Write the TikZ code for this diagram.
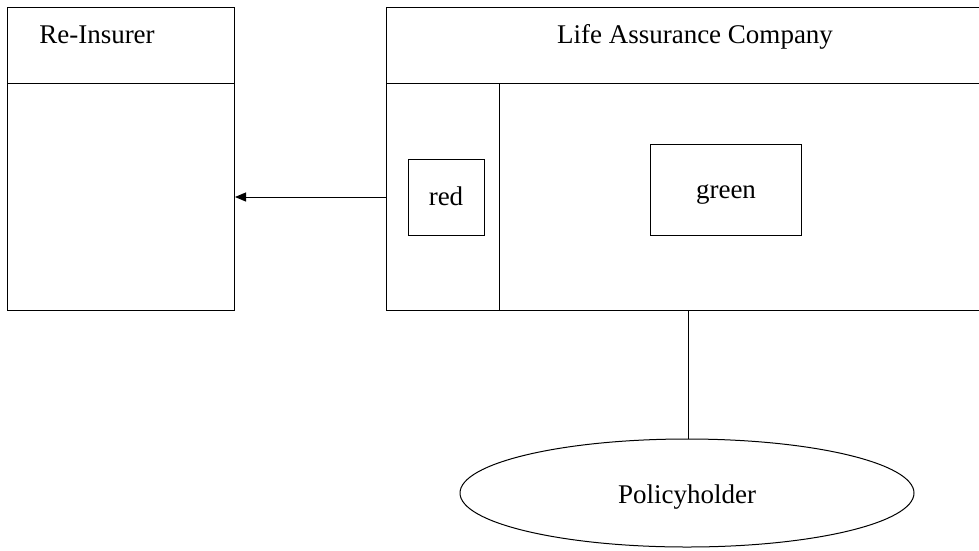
\documentclass[tikz,border=0pt]{standalone}
\usepackage{fontspec}
\setmainfont{Liberation Serif}
\usetikzlibrary{arrows.meta,shapes.geometric}
\begin{document}
\begin{tikzpicture}[x=1pt,y=-1pt,line width=1pt,
  frame/.style={draw,rectangle,inner sep=0pt,anchor=north west},
  lbl/.style={anchor=base,inner sep=0pt,font=\fontsize{27}{32}\selectfont},
  flow/.style={-{Triangle[length=11pt,width=9pt]}}]
\useasboundingbox (0,0) rectangle (979,550);

% Re-Insurer class box
\node[frame,minimum width=227pt,minimum height=303pt] (reins) at (7,7) {};
\draw (7,83) -- (234,83);
\node[lbl] (reinsT) at (97,43) {Re-Insurer};

% Life Assurance Company box, running off the right edge
\coordinate (lacTL) at (386,7);
\coordinate (lacBL) at (386,310);
\draw (1000,7) -- (lacTL) -- (lacBL) -- (1000,310);
\draw (386,83) -- (1000,83);
\draw (499,83) -- (499,310);
\node[lbl] (lacT) at (695,43) {Life Assurance Company};
\coordinate (lacL) at (386,197);
\coordinate (lacB) at (688,310);

% inner boxes
\node[frame,minimum width=76pt,minimum height=76pt] (red) at (408,159) {};
\node[lbl] at (446,205) {red};
\node[frame,minimum width=151pt,minimum height=91pt] (green) at (650,144) {};
\node[lbl] at (726,198) {green};

% policyholder
\node[draw,ellipse,minimum width=454pt,minimum height=108pt,inner sep=0pt] (ph) at (687,493) {};
\node[lbl] at (687,503) {Policyholder};

% connectors
\draw[flow] (lacL) -- (reins.east |- lacL);
\draw (lacB) -- (ph.north -| lacB);
\end{tikzpicture}
\end{document}
